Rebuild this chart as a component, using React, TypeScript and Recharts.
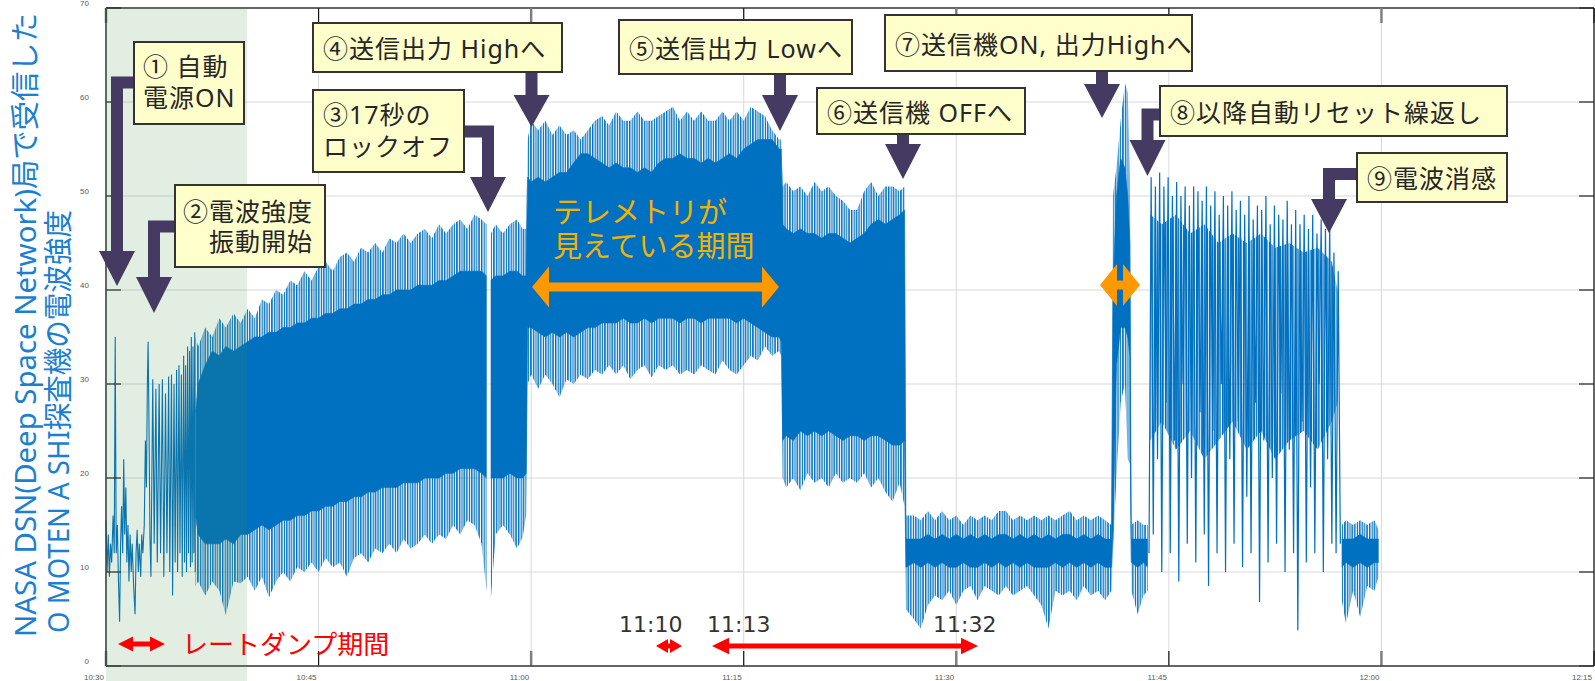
import React from "react";
import { ComposedChart, Area, Line, XAxis, YAxis, CartesianGrid, ReferenceLine } from "recharts";

// x is minutes after 10:30
const xTicks = [0, 15, 30, 45, 60, 75, 90, 105];
const timeLabels = ["10:30", "10:45", "11:00", "11:15", "11:30", "11:45", "12:00", "12:15"];
const yTicks = [0, 10, 20, 30, 40, 50, 60, 70];

// power-on trace and the first slow oscillations (10:30 - 10:36)
const earlyT = [
  0, 0.08, 0.16, 0.24, 0.32, 0.4, 0.5, 0.58, 0.65, 0.72, 0.8, 0.88, 0.96, 1.03, 1.1, 1.18, 1.25, 1.32,
  1.4, 1.47, 1.55, 1.62, 1.7, 1.78, 1.85, 1.95, 2.05, 2.12, 2.2, 2.28, 2.35, 2.45, 2.52, 2.6, 2.7, 2.78,
  2.85, 2.92, 2.97, 3.02, 3.1, 3.17, 3.3, 3.4, 3.52, 3.62, 3.75, 3.85, 3.98, 4.08, 4.2, 4.3, 4.42, 4.5,
  4.62, 4.7, 4.8, 4.88, 4.98, 5.05, 5.15, 5.22, 5.32, 5.38, 5.48, 5.54, 5.62, 5.68, 5.76, 5.82, 5.9,
  5.96, 6.02, 6.08, 6.14, 6.2, 6.26, 6.3,
];
const earlyV = [
  15.5, 10, 14, 9.5, 13, 11, 16, 12, 35, 12, 15, 9, 4.7, 13, 17, 12, 22, 14,
  19, 11, 15, 9, 14, 10, 13, 8.5, 5.5, 12, 14.5, 10, 13, 9.5, 14, 12, 15, 24,
  19, 30, 34.5, 28, 14, 9.5, 30.5, 13, 29.5, 11, 30, 12, 30.5, 9.5, 29, 12, 30.8, 10,
  31, 7.5, 30, 11, 31.5, 10, 32, 12, 31, 9.5, 33, 11, 32, 10, 34, 12, 33.5,
  10.5, 35, 11, 34, 12, 35.5, 10,
];

// dense stretches of the trace per time bin: spike tips and the solid core
const bandT = [
  6.32, 6.5, 7, 7.5, 8, 8.45, 9, 9.5, 10, 10.5, 11, 11.5, 12, 12.5, 13, 13.5, 14, 14.5, 15, 15.5, 16,
  16.5, 17, 17.5, 18, 18.5, 19, 19.5, 20, 20.5, 21, 21.5, 22, 22.5, 23, 23.5, 24, 24.5, 25, 25.5, 26,
  26.5, 26.85, 27, 27.15, 27.5, 28, 28.5, 29, 29.4, 29.65,
  29.75, 30, 30.5, 31, 31.5, 32, 32.5, 33, 33.5, 34, 34.5, 35, 35.5, 36, 36.5, 37, 37.5, 38, 38.5, 39,
  39.5, 40, 40.5, 41, 41.5, 42, 42.5, 43, 43.5, 44, 44.5, 45, 45.5, 46, 46.5, 47, 47.5, 47.65,
  47.75, 48, 48.5, 49, 49.5, 50, 50.5, 51, 51.5, 52, 52.5, 53, 53.5, 54, 54.5, 55, 55.5, 56, 56.35,
  56.45, 57, 57.5, 58, 58.5, 59, 59.5, 60, 60.5, 61, 61.5, 62, 62.5, 63, 63.5, 64, 64.5, 65, 65.5, 66,
  66.5, 67, 67.5, 68, 68.5, 69, 69.5, 70, 70.5, 70.95,
  71.05, 71.3, 71.6, 71.9, 72.1, 72.25,
  72.35, 72.8, 73.2, 73.5,
  87.2, 87.5, 88, 88.5, 89, 89.5, 89.8,
];
const tipHi = [
  35, 34, 36, 35, 37, 36, 37.5, 36.5, 38, 37, 39, 38.5, 40, 39.5, 41, 40.5, 42, 41, 42.5, 43, 42,
  43.5, 44, 43, 44.5, 44, 45, 44, 45.5, 45, 46, 45, 46, 46.5, 45.5, 47, 46, 47, 47.5, 46.5, 48,
  47.5, 47, null, 46, 47, 46, 47, 47.5, 46.5, 46.5,
  56, 58, 57, 58, 56.5, 57.5, 56.5, 57, 56, 57, 58, 58.5, 57.5, 59, 58, 58, 59, 58, 58, 58.5,
  59, 59.5, 58, 59, 58, 59, 58, 58, 59, 58, 59, 58, 59.5, 59, 58.5, 57, 56, 56,
  51, 51.5, 50.5, 51, 50, 51.5, 50.5, 51, 50, 49.5, 48.5, 48.5, 50.5, 51.5, 50, 51, 51, 50.5, 51,
  16, 16, 15.5, 16.5, 15.5, 16.5, 15.5, 16, 15, 16, 15.5, 16, 15.5, 16.5, 16.5, 15.5, 16, 15.5, 16, 15.5,
  16, 15.5, 16, 16.5, 15.5, 16, 15.5, 16, 15.5, 15,
  50, 53, 58, 62, 61, 52,
  15, 15.5, 15, 15,
  15, 15.5, 15, 15.5, 15, 15.5, 14.5,
];
const coreHi = [
  27, 30, 32, 33.5, 33, 34, 33.5, 34, 34.5, 35, 35, 35.5, 35.5, 36, 36, 36.5, 36.5, 37, 37, 37.5, 37.5,
  38, 38, 38.5, 38.5, 39, 39, 39.5, 39.5, 40, 40, 40, 40.5, 40.5, 40.5, 41, 41, 41.5, 42, 42, 42,
  42, 41.5, null, 41, 41.5, 41.5, 42, 42, 41.5, 41.5,
  52, 51.5, 52, 51.5, 52, 52.5, 52.5, 53.5, 54.5, 54.5, 54, 53.5, 53, 53.5, 53, 53, 52.5, 53, 52.5, 53.5,
  54, 54, 54.5, 54, 54, 53.5, 54, 53.5, 54, 54.5, 54, 55, 55.5, 56, 56, 56, 55, 55,
  47, 46.5, 46, 46.5, 46, 46, 45.5, 46, 46, 45.5, 45, 45.5, 46, 47, 47.5, 47, 47.5, 48, 48.5,
  13.5, 13.5, 13.5, 14, 13.5, 14, 13.5, 14, 13.5, 14, 13.5, 14, 13.5, 14, 14, 13.5, 14, 13.5, 14, 13.5,
  14, 13.5, 14, 14, 13.5, 14, 13.5, 14, 13.5, 13.5,
  40, 50, 54, 53, 50, 45,
  13.5, 13.5, 13.5, 13.5,
  13.5, 13.5, 13.5, 14, 13.5, 13.5, 13.5,
];
const coreLo = [
  16, 14, 13, 13, 13, 13.5, 13, 14, 14, 14.5, 15, 14.5, 15, 15.5, 15.5, 16, 16, 16.5, 16.5, 17, 17,
  17.5, 17.5, 18, 18, 18.5, 18.5, 19, 19, 19, 19.5, 19.5, 19.5, 20, 20, 20, 20.5, 20.5, 21, 21, 21,
  20.5, 20, null, 20, 20, 20, 20.5, 20, 20, 20.5,
  36, 36, 35.5, 35, 35.5, 35, 35.5, 35, 35.5, 36, 36, 36.5, 36.5, 36.5, 37, 36.5, 36.5, 37, 36.5, 37,
  37, 37, 36.5, 37, 37, 36.5, 37, 37, 37, 37, 36.5, 37, 36.5, 36, 35.5, 35, 35, 34.5,
  24, 24.5, 24, 25, 24.5, 25, 24.5, 25, 24.5, 24, 24.5, 24.5, 24, 24.5, 24.5, 24, 23.5, 23.5, 24,
  10.5, 11, 10.5, 11, 10.5, 11, 10.5, 10.5, 11, 10.5, 10.5, 11, 10.5, 11, 10.5, 11, 10.5, 11, 10.5, 10.5,
  10.5, 11, 10.5, 11, 10.5, 11, 10.5, 11, 10.5, 10.5,
  14, 32, 36, 36, 35, 33,
  11, 10.5, 11, 10.5,
  10.5, 11, 10.5, 11, 10.5, 11, 11,
];
const tipLo = [
  8.5, 9, 7.5, 9, 8, 5.4, 9, 8.8, 9.5, 8, 9.5, 7.3, 9, 10, 9, 10.5, 10, 11, 10, 11.5, 10.5,
  11, 9.5, 11.5, 12, 11, 12.5, 12, 13, 12, 13.5, 12.5, 13, 14, 13, 14, 13.5, 15, 14, 15.5, 15,
  13, 8, null, 7, 14, 15, 14, 12.5, 13.7, 16,
  30, 31, 29.5, 31, 30, 28.6, 30.5, 30, 31, 30.5, 31.5, 31, 32, 31, 32, 30.5, 31.5, 32, 30.7, 32,
  31.5, 32, 31, 31.5, 31, 32, 31.5, 31, 32.5, 31.5, 31, 32, 33, 32.5, 34, 33, 33.5, 33,
  20, 19, 20, 18.7, 20.5, 19.5, 20, 19, 20.5, 19.5, 20, 19.5, 20.5, 19, 20, 18.5, 17.5, 19.5, 17,
  6, 5, 4, 6.5, 7.5, 7, 8, 6.5, 8, 8.5, 7, 8.5, 8, 7.5, 8.5, 7.5, 8, 8.5, 7.5, 6.5,
  4, 8, 7.5, 8, 7, 8.5, 7.5, 8, 7, 8,
  12, 20, 28, 30, 22, 21.5,
  8, 5.5, 7.5, 8,
  7, 4.5, 8, 5.2, 8.5, 8, 9.5,
];

// auto-reset swings, 11:43.6 to 11:57, one reading every 0.15 min
const resetStart = 73.6;
const resetStep = 0.15;
const resetV = [
  12, 52, 14, 51, 22, 52.5, 10, 51, 28, 52, 12, 50, 24, 51.5, 9, 50, 30, 51, 13, 49,
  20, 51, 11, 50.5, 27, 49.5, 14, 51, 8.5, 49, 25, 50.5, 12, 48, 30, 50, 10, 49, 22, 50.5,
  13, 48.5, 26, 49.5, 10.5, 48, 18, 50, 12, 47.5, 28, 49, 6.8, 48.5, 24, 50, 11, 47, 20, 49,
  13, 48, 29, 47.5, 10, 49.5, 23, 47, 12, 48.5, 3.8, 47, 26, 48, 11, 46.5, 19, 48, 12, 46,
  30, 47.5, 10, 46.5, 22, 47, 13, 44, 12, 42, 13,
];
// where the reset swings overlap most thickly
const resetBandT = [73.7, 74.5, 75.5, 76.5, 77.5, 78.5, 79.5, 80.5, 81.5, 82.5, 83.5, 84.5, 85.5, 86.5, 86.9];
const resetBandHi = [48, 47, 48, 46, 47, 45, 46, 45, 46, 44.5, 45, 44, 44.5, 43, 40];
const resetBandLo = [24, 26, 23, 25, 22, 24, 26, 23, 25, 22, 24, 25, 23, 26, 28];

type Row = {
  t: number;
  early?: number;
  reset?: number;
  resetBand?: [number, number];
  tip?: [number, number] | null;
  core?: [number, number] | null;
};

function buildRows(): Row[] {
  const map = new Map<number, Row>();
  const at = (t: number) => {
    const k = Math.round(t * 1000) / 1000;
    let r = map.get(k);
    if (!r) {
      r = { t: k };
      map.set(k, r);
    }
    return r;
  };
  earlyT.forEach((t, i) => {
    at(t).early = earlyV[i];
  });
  bandT.forEach((t, i) => {
    const r = at(t);
    const hi = tipHi[i];
    r.tip = hi == null ? null : [tipLo[i] as number, hi];
    r.core = coreHi[i] == null ? null : [coreLo[i] as number, coreHi[i] as number];
  });
  resetV.forEach((v, i) => {
    at(resetStart + i * resetStep).reset = v;
  });
  resetBandT.forEach((t, i) => {
    at(t).resetBand = [resetBandLo[i], resetBandHi[i]];
  });
  return [...map.values()].sort((a, b) => a.t - b.t);
}

const rows = buildRows();

const BLUE = "#0070c0";
const ARROW = "#453a62";
const BORDER = "#3a3a3a";
const JP = "'Noto Sans', 'Noto Sans CJK JP', sans-serif";

function TimeTick(props: any) {
  const { x, payload } = props;
  const i = xTicks.indexOf(payload.value);
  return (
    <text x={x - 2} y={680} textAnchor="end" fontSize={8} fill="#595959" fontFamily="'Liberation Sans', Arial">
      {timeLabels[i]}
    </text>
  );
}

function LevelTick(props: any) {
  const { y, payload } = props;
  return (
    <text x={89} y={y - 2.5} textAnchor="end" fontSize={8} fill="#595959" fontFamily="'Liberation Sans', Arial">
      {payload.value}
    </text>
  );
}

const pts = (p: number[][]) => p.map((q) => q.join(",")).join(" ");

// straight arrow hanging under a callout
function downArrow(cx: number, y0: number, headTop: number, tip: number) {
  const s = 6;
  const h = 18;
  return pts([
    [cx - s, y0], [cx + s, y0], [cx + s, headTop], [cx + h, headTop], [cx, tip],
    [cx - h, headTop], [cx - s, headTop],
  ]);
}

// arrow leaving a callout sideways and turning down
function elbowArrow(fromX: number, hy: number, cx: number, headTop: number, tip: number) {
  const s = 6;
  const h = 18;
  const d = fromX > cx ? 1 : -1;
  return pts([
    [fromX, hy - s], [cx - d * s, hy - s], [cx - d * s, headTop], [cx - d * h, headTop], [cx, tip],
    [cx + d * h, headTop], [cx + d * s, headTop], [cx + d * s, hy + s], [fromX, hy + s],
  ]);
}

function twoWay(x1: number, x2: number, cy: number, s: number, h: number, len: number) {
  return pts([
    [x1, cy], [x1 + len, cy - h], [x1 + len, cy - s], [x2 - len, cy - s], [x2 - len, cy - h], [x2, cy],
    [x2 - len, cy + h], [x2 - len, cy + s], [x1 + len, cy + s], [x1 + len, cy + h],
  ]);
}

type Box = { x: number; y: number; w: number; h: number; lines: string[]; tx: number; ty: number; gap?: number; anchor?: "start" | "end" };

const boxes: Box[] = [
  { x: 134, y: 42, w: 110, h: 82, lines: ["① 自動", "電源ON"], tx: 143, ty: 66, gap: 31 },
  { x: 175, y: 185, w: 150, h: 82, lines: ["②電波強度", "振動開始"], tx: 313, ty: 211, gap: 30, anchor: "end" },
  { x: 313, y: 90, w: 151, h: 82, lines: ["③17秒の", "ロックオフ"], tx: 323, ty: 114, gap: 32 },
  { x: 313, y: 23, w: 249, h: 49, lines: ["④送信出力 Highへ"], tx: 323, ty: 48 },
  { x: 619, y: 20, w: 233, h: 54, lines: ["⑤送信出力 Lowへ"], tx: 629, ty: 48 },
  { x: 817, y: 88, w: 208, h: 46, lines: ["⑥送信機 OFFへ"], tx: 827, ty: 112 },
  { x: 885, y: 15, w: 307, h: 56, lines: ["⑦送信機ON, 出力Highへ"], tx: 895, ty: 44 },
  { x: 1160, y: 86, w: 347, h: 50, lines: ["⑧以降自動リセット繰返し"], tx: 1170, ty: 112 },
  { x: 1357, y: 153, w: 150, h: 49, lines: ["⑨電波消感"], tx: 1367, ty: 178 },
];

function Annotations() {
  return (
    <svg width={1595} height={681} style={{ position: "absolute", left: 0, top: 0, pointerEvents: "none" }}>
      {/* rate-dump period shading */}
      <rect x={106} y={8} width={141} height={673} fill="rgba(70,140,60,0.15)" />

      <text
        transform="rotate(-90 24 637)"
        x={24}
        y={637}
        fontSize={29}
        fill="#1c7fcf"
        fontFamily={JP}
        dominantBaseline="central"
        textLength={624}
        lengthAdjust="spacingAndGlyphs"
      >
        NASA DSN(Deep Space Network)局で受信した
      </text>
      <text
        transform="rotate(-90 57 633)"
        x={57}
        y={633}
        fontSize={29}
        fill="#1c7fcf"
        fontFamily={JP}
        dominantBaseline="central"
        textLength={423}
        lengthAdjust="spacingAndGlyphs"
      >
        O MOTEN A SHI探査機の電波強度
      </text>

      <g fill={ARROW}>
        <polygon points={elbowArrow(134, 82.5, 117, 251, 286)} />
        <polygon points={elbowArrow(175, 226.5, 154, 277, 313)} />
        <polygon points={elbowArrow(464, 131.5, 488, 177, 212)} />
        <polygon points={downArrow(531.5, 72, 95, 127)} />
        <polygon points={downArrow(780, 74, 95, 131)} />
        <polygon points={downArrow(903, 134, 144, 179)} />
        <polygon points={downArrow(1102, 71, 84, 118)} />
        <polygon points={elbowArrow(1160, 114.5, 1147.5, 140, 176)} />
        <polygon points={elbowArrow(1357, 174, 1329, 199, 233)} />
      </g>

      {boxes.map((b, i) => (
        <g key={i}>
          <rect x={b.x} y={b.y} width={b.w} height={b.h} fill="#ffffcc" stroke="#333" strokeWidth={2} />
          <text
            x={b.tx}
            y={b.ty}
            textAnchor={b.anchor || "start"}
            dominantBaseline="central"
            fontSize={25}
            letterSpacing={1}
            fill="#262626"
            fontFamily={JP}
          >
            {b.lines.map((l, j) => (
              <tspan key={j} x={b.tx} dy={j === 0 ? 0 : b.gap}>
                {l}
              </tspan>
            ))}
          </text>
        </g>
      ))}

      <text fontFamily={JP} fontSize={29} fill="#f2b200" x={553} y={211} dominantBaseline="central">
        <tspan x={553} dy={0}>テレメトリが</tspan>
        <tspan x={553} dy={34}>見えている期間</tspan>
      </text>
      <g fill="#ff9900">
        <polygon points={twoWay(532, 779, 287, 4.5, 20.5, 17)} />
        <polygon points={twoWay(1100, 1140, 285, 4.5, 21, 17)} />
      </g>

      <g fill="#ff0000">
        <polygon points={twoWay(118, 165, 644, 2.5, 7.5, 15)} />
        <polygon points={twoWay(656, 682, 646, 2.5, 7, 12)} />
        <polygon points={twoWay(712, 978, 646, 2.5, 8.3, 17)} />
      </g>
      <text x={182} y={644} fontSize={26} fill="#ff0000" fontFamily={JP} dominantBaseline="central">
        レートダンプ期間
      </text>
      <g fontFamily="'DejaVu Sans', sans-serif" fontSize={22} fill="#333" dominantBaseline="central">
        <text x={619} y={624}>11:10</text>
        <text x={707} y={624}>11:13</text>
        <text x={933} y={624}>11:32</text>
      </g>
    </svg>
  );
}

export default function App() {
  const xTickLen = 1.06;
  const yTickLen = 1.6;
  return (
    <div style={{ position: "absolute", left: 0, top: 0, width: 1595, height: 681, background: "#fff", overflow: "hidden" }}>
      <ComposedChart width={1595} height={681} data={rows} margin={{ top: 8, right: 1, bottom: 0, left: 0 }}>
        <defs>
          {/* uneven vertical strokes for the spike fringe */}
          <pattern id="tipHatch" width={7.4} height={8} patternUnits="userSpaceOnUse">
            <rect x={0} y={0} width={1.4} height={8} fill={BLUE} />
            <rect x={2.6} y={0} width={1.1} height={8} fill={BLUE} />
            <rect x={4.7} y={0} width={1.6} height={8} fill={BLUE} />
          </pattern>
          <pattern id="denseHatch" width={5.2} height={8} patternUnits="userSpaceOnUse">
            <rect x={0} y={0} width={1.7} height={8} fill={BLUE} />
            <rect x={2.5} y={0} width={1.5} height={8} fill={BLUE} />
          </pattern>
        </defs>
        <CartesianGrid stroke="#d9d9d9" strokeWidth={1} />
        <XAxis
          dataKey="t"
          type="number"
          domain={[0, 105]}
          ticks={xTicks}
          interval={0}
          height={15}
          tick={<TimeTick />}
          tickLine={false}
          axisLine={{ stroke: BORDER, strokeWidth: 1.5 }}
        />
        <YAxis
          type="number"
          domain={[0, 70]}
          ticks={yTicks}
          interval={0}
          width={106}
          tick={<LevelTick />}
          tickLine={false}
          axisLine={{ stroke: BORDER, strokeWidth: 1.5 }}
        />
        <Area
          type="linear"
          dataKey="tip"
          fill="url(#tipHatch)"
          fillOpacity={1}
          stroke="none"
          connectNulls={false}
          dot={false}
          activeDot={false}
          isAnimationActive={false}
        />
        <Area
          type="linear"
          dataKey="core"
          fill={BLUE}
          fillOpacity={1}
          stroke={BLUE}
          strokeWidth={0.6}
          connectNulls={false}
          dot={false}
          activeDot={false}
          isAnimationActive={false}
        />
        <Area
          type="linear"
          dataKey="resetBand"
          fill="url(#denseHatch)"
          fillOpacity={1}
          stroke="none"
          connectNulls
          dot={false}
          activeDot={false}
          isAnimationActive={false}
        />
        <Line type="linear" dataKey="early" stroke={BLUE} strokeWidth={1.1} dot={false} activeDot={false} connectNulls isAnimationActive={false} />
        <Line type="linear" dataKey="reset" stroke={BLUE} strokeWidth={1.2} dot={false} activeDot={false} connectNulls isAnimationActive={false} />

        <ReferenceLine y={70} stroke={BORDER} strokeWidth={1.5} />
        <ReferenceLine x={105} stroke={BORDER} strokeWidth={1.5} />
        {xTicks.map((v, i) => {
          const odd = i % 2 === 1;
          const stroke = odd ? "#111" : "#7f7f7f";
          const w = odd ? 1.2 : 2.5;
          return [
            <ReferenceLine key={`xb${v}`} segment={[{ x: v, y: 0 }, { x: v, y: yTickLen }]} stroke={stroke} strokeWidth={w} />,
            <ReferenceLine key={`xt${v}`} segment={[{ x: v, y: 70 }, { x: v, y: 70 - yTickLen }]} stroke={stroke} strokeWidth={w} />,
          ];
        })}
        {yTicks.map((v) => [
          <ReferenceLine key={`yl${v}`} segment={[{ x: 0, y: v }, { x: xTickLen, y: v }]} stroke="#222" strokeWidth={1.2} />,
          <ReferenceLine key={`yr${v}`} segment={[{ x: 105, y: v }, { x: 105 - xTickLen, y: v }]} stroke="#222" strokeWidth={1.2} />,
        ])}
      </ComposedChart>
      <Annotations />
    </div>
  );
}
